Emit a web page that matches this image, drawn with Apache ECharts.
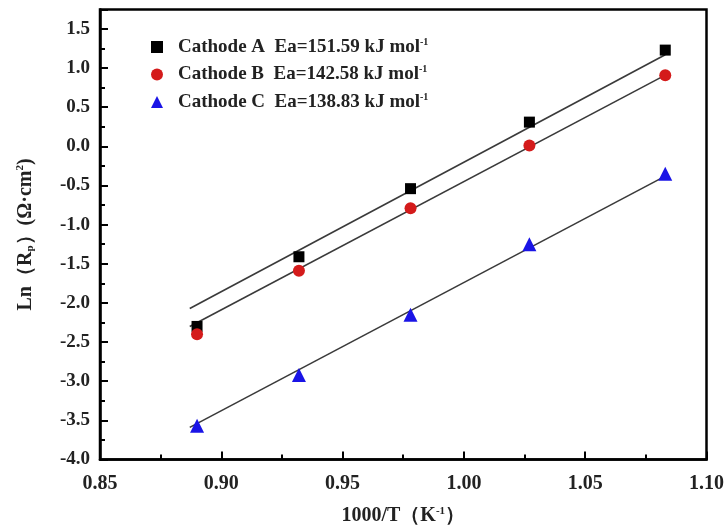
<!DOCTYPE html>
<html><head><meta charset="utf-8">
<script src="https://cdn.jsdelivr.net/npm/echarts@6/dist/echarts.min.js"></script>
<style>html,body{margin:0;padding:0;background:#fff}#c{width:727px;height:531px}</style>
</head><body><div id="c"></div>
<script>
const xValues = [0.890, 0.932, 0.978, 1.027, 1.083];
const seriesA = [-2.30, -1.41, -0.54, 0.31, 1.23];
const seriesB = [-2.40, -1.59, -0.79, 0.01, 0.91];
const seriesC = [-3.57, -2.92, -2.15, -1.25, -0.35];
const fitX = [0.887, 1.083];
const fitA = [-2.07, 1.17];
const fitB = [-2.30, 0.91];
const fitC = [-3.59, -0.38];
const names = ['Cathode A', 'Cathode B', 'Cathode C'];
const eaValues = ['151.59', '142.58', '138.83'];

const font = 'Liberation Serif';
const chart = echarts.init(document.getElementById('c'));
const pts = (ys) => xValues.map((x, i) => [x, ys[i]]);
const fit = (ys) => fitX.map((x, i) => [x, ys[i]]);
const lineStyle = {color: '#3a3a3a', width: 1.6};
chart.setOption({
  animation: false,
  grid: {left: 100, right: 19, top: 9.4, bottom: 71, show: true, borderColor: '#000', borderWidth: 2.5, backgroundColor: 'transparent'},
  legend: {
    left: 146, top: 32, orient: 'vertical', itemGap: 8, itemWidth: 12, itemHeight: 12,
    data: names,
    formatter: (n) => { const i = names.indexOf(n); return '{a|' + n + '  Ea=' + eaValues[i] + ' kJ mol}{s|-1}'; },
    textStyle: {fontFamily: font, fontWeight: 'bold', fontSize: 19, color: '#222', padding: [0,0,0,10],
      rich: {a: {fontFamily: font, fontWeight: 'bold', fontSize: 19, color: '#222'},
             s: {fontFamily: font, fontWeight: 'bold', fontSize: 10, color: '#222', verticalAlign: 'top', padding: [0,0,10,0]}}}
  },
  xAxis: {
    type: 'value', min: 0.85, max: 1.10, interval: 0.05,
    name: '1000/T（K{s|-1}）', nameLocation: 'middle', nameGap: 46,
    nameTextStyle: {fontFamily: font, fontWeight: 'bold', fontSize: 20, color: '#222',
      rich: {s: {fontFamily: font, fontWeight: 'bold', fontSize: 11, color: '#222', verticalAlign: 'top', padding: [0,0,10,0]}}},
    axisLine: {show: true, onZero: false, lineStyle: {color: '#000', width: 2.5}},
    axisTick: {show: true, inside: true, length: 8, lineStyle: {color: '#000', width: 2}},
    minorTick: {show: true, splitNumber: 2, length: 5, lineStyle: {color: '#000', width: 2}},
    splitLine: {show: false},
    axisLabel: {fontFamily: font, fontWeight: 'bold', fontSize: 20, color: '#222', margin: 14, formatter: v => v.toFixed(2)}
  },
  yAxis: {
    type: 'value', min: -4.0, max: 1.75, interval: 0.5,
    name: 'Ln（R{p|p}）(Ω·cm{s|2})', nameLocation: 'middle', nameGap: 64, nameRotate: 90,
    nameTextStyle: {fontFamily: font, fontWeight: 'bold', fontSize: 20, color: '#222',
      rich: {p: {fontFamily: font, fontWeight: 'bold', fontSize: 11, color: '#222', verticalAlign: 'bottom', padding: [10,0,0,0]},
             s: {fontFamily: font, fontWeight: 'bold', fontSize: 11, color: '#222', verticalAlign: 'top', padding: [0,0,10,0]}}},
    axisLine: {show: true, onZero: false, lineStyle: {color: '#000', width: 2.5}},
    axisTick: {show: true, inside: true, length: 8, lineStyle: {color: '#000', width: 2}},
    minorTick: {show: true, splitNumber: 2, length: 5, lineStyle: {color: '#000', width: 2}},
    splitLine: {show: false},
    axisLabel: {fontFamily: font, fontWeight: 'bold', fontSize: 19, color: '#222', margin: 10,
      formatter: v => (Math.abs(v * 2 - Math.round(v * 2)) < 1e-6 ? v.toFixed(1) : '')}
  },
  series: [
    {type: 'line', data: fit(fitA), symbol: 'none', lineStyle, silent: true, z: 1},
    {type: 'line', data: fit(fitB), symbol: 'none', lineStyle, silent: true, z: 1},
    {type: 'line', data: fit(fitC), symbol: 'none', lineStyle, silent: true, z: 1},
    {name: names[0], type: 'scatter', data: pts(seriesA), symbol: 'rect', symbolSize: 11, itemStyle: {color: '#000', opacity: 1}, z: 3},
    {name: names[1], type: 'scatter', data: pts(seriesB), symbol: 'circle', symbolSize: 12, itemStyle: {color: '#d41b1b', opacity: 1}, z: 3},
    {name: names[2], type: 'scatter', data: pts(seriesC), symbol: 'triangle', symbolSize: 14, itemStyle: {color: '#1a14e6', opacity: 1}, z: 3}
  ]
});
</script></body></html>
